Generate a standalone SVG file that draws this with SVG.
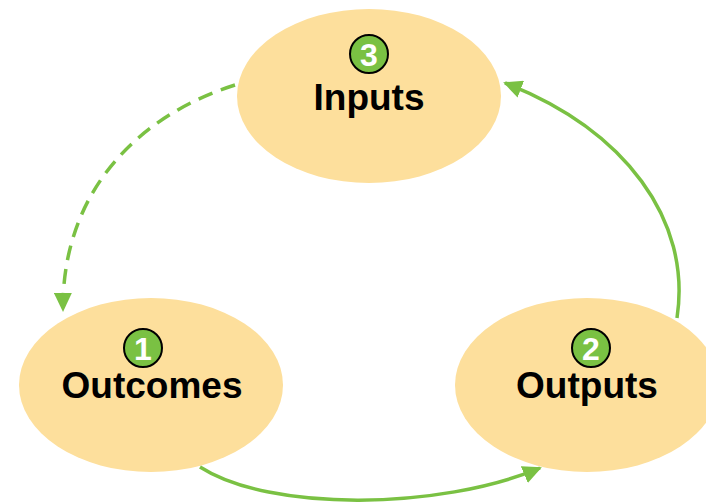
<svg xmlns="http://www.w3.org/2000/svg" width="706" height="504" viewBox="0 0 706 504">
<style>
.node{fill:#FDDF9C;}
.label{font-family:"Liberation Sans",Arial,sans-serif;font-weight:bold;font-size:37px;fill:#000;text-anchor:middle;}
.badge{fill:#7AC143;stroke:#000;stroke-width:2;}
.num{font-family:"Liberation Sans",Arial,sans-serif;font-weight:bold;font-size:32px;fill:#fff;text-anchor:middle;}
.conn{fill:none;stroke:#7AC143;stroke-width:3.5;}
</style>
<defs>
<marker id="ah" markerUnits="userSpaceOnUse" markerWidth="20" markerHeight="18" refX="17" refY="9" orient="auto">
<path d="M0,0 L19,9 L0,18 z" fill="#7AC143"/>
</marker>
</defs>
<g id="inputs">
<ellipse class="node" cx="369" cy="96" rx="132" ry="87"/>
<circle class="badge" cx="369" cy="54" r="19"/>
<text class="num" x="369" y="66">3</text>
<text class="label" x="369" y="110">Inputs</text>
</g>
<g id="outcomes">
<ellipse class="node" cx="151" cy="385" rx="132" ry="87"/>
<circle class="badge" cx="143" cy="348" r="19"/>
<text class="num" x="143" y="360">1</text>
<text class="label" x="152" y="398">Outcomes</text>
</g>
<g id="outputs">
<ellipse class="node" cx="587" cy="385" rx="132" ry="87"/>
<circle class="badge" cx="591" cy="348" r="19"/>
<text class="num" x="591" y="360">2</text>
<text class="label" x="587" y="398">Outputs</text>
</g>
<g id="connectors">
<path class="conn" d="M235,85 C140,115 62,190 63,310" stroke-dasharray="15,9" marker-end="url(#ah)"/>
<path class="conn" d="M677,318 C692,220 625,130 505,83" marker-end="url(#ah)"/>
<path class="conn" d="M200,467 C270,512 440,510 540,468" marker-end="url(#ah)"/>
</g>
</svg>
